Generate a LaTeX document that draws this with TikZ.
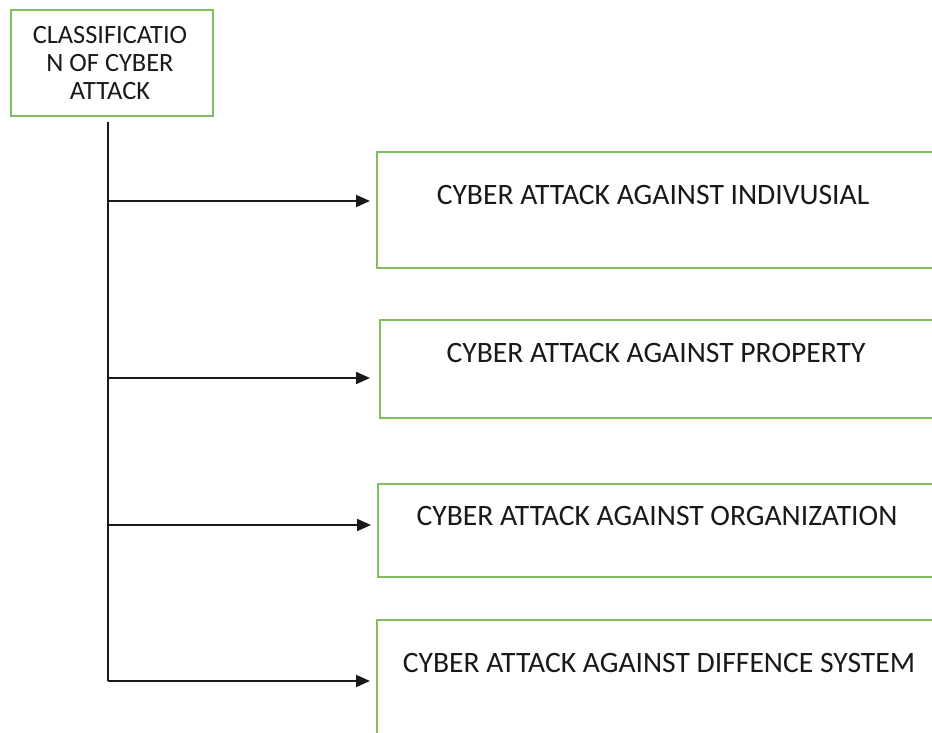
\documentclass[tikz,border=0pt]{standalone}
\usepackage{fontspec}
\setmainfont{Carlito}
\usetikzlibrary{arrows.meta}
\definecolor{boxgreen}{RGB}{128,192,92}
\definecolor{ink}{RGB}{25,25,25}
\tikzset{
  box/.style={draw=boxgreen, line width=2pt, rectangle, inner sep=0pt, anchor=north west},
  lbl/.style={text=ink, font=\fontsize{29.6}{34}\selectfont, inner sep=0pt, anchor=center},
  rootlbl/.style={text=ink, font=\fontsize{26.4}{28}\selectfont, inner sep=0pt, anchor=center, align=center},
  conn/.style={draw=ink, line width=2pt},
  arr/.style={conn, -{Triangle[length=14pt,width=12pt]}, shorten >=6pt},
}
\begin{document}
\begin{tikzpicture}[x=1pt,y=-1pt]
\useasboundingbox (0,0) rectangle (932,733);
\clip (0,0) rectangle (932,733);
% root
\node[box, minimum width=202pt, minimum height=106pt] (root) at (10,9) {};
\node[rootlbl] (roottxt) at (110,63) {CLASSIFICATIO\\N OF CYBER\\ATTACK};
% boxes
\node[box, minimum width=600pt, minimum height=116pt] (b1) at (376,151) {};
\node[box, minimum width=600pt, minimum height=98pt] (b2) at (379,319) {};
\node[box, minimum width=600pt, minimum height=93pt] (b3) at (377,483) {};
\node[box, minimum width=600pt, minimum height=140pt] (b4) at (376,619) {};
\node[lbl] (t1) at (653,195) {CYBER ATTACK AGAINST INDIVUSIAL};
\node[lbl] (t2) at (656,353) {CYBER ATTACK AGAINST PROPERTY};
\node[lbl] (t3) at (657,516) {CYBER ATTACK AGAINST ORGANIZATION};
\node[lbl] (t4) at (659,663) {CYBER ATTACK AGAINST DIFFENCE SYSTEM};
% trunk
\coordinate (top) at (108,122);
\coordinate (bot) at (108,681);
\coordinate (j1) at (108,201);
\coordinate (j2) at (108,378);
\coordinate (j3) at (108,525);
\coordinate (j4) at (108,681);
\draw[conn] (top) -- (bot);
\draw[arr] (j1) -- (j1 -| b1.west);
\draw[arr, shorten >=9pt] (j2) -- (j2 -| b2.west);
\draw[arr] (j3) -- (j3 -| b3.west);
\draw[arr] (j4) -- (j4 -| b4.west);
\end{tikzpicture}
\end{document}
